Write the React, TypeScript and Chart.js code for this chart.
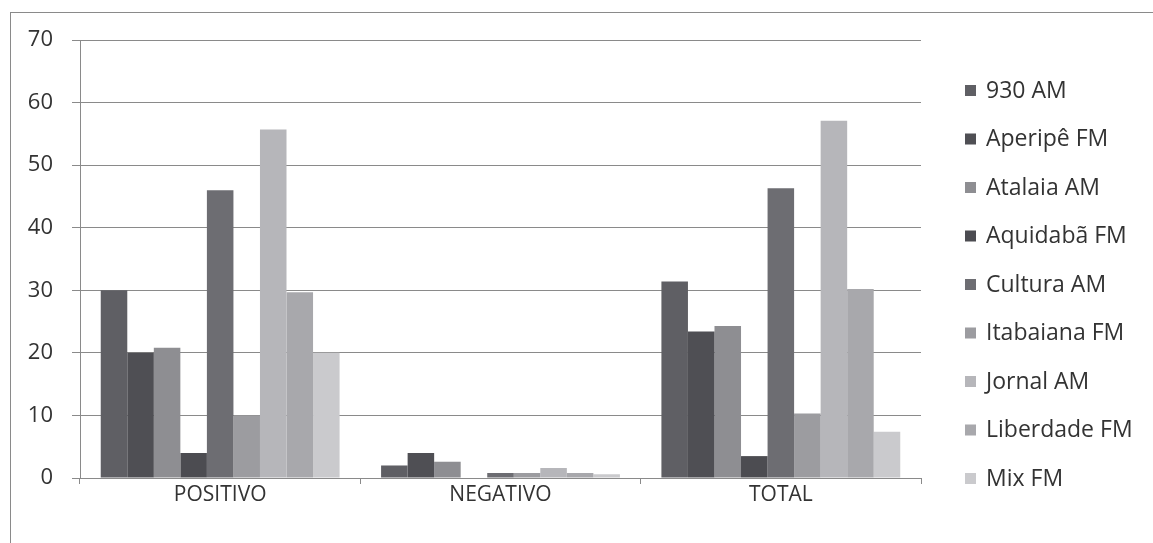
import React, { useEffect, useRef } from "react";
import { Chart, registerables } from "chart.js";

Chart.register(...registerables);

const categories = ["POSITIVO", "NEGATIVO", "TOTAL"];
const stations = [
  "930 AM",
  "Aperipê FM",
  "Atalaia AM",
  "Aquidabã FM",
  "Cultura AM",
  "Itabaiana FM",
  "Jornal AM",
  "Liberdade FM",
  "Mix FM",
];
const positivo = [30, 20, 20.8, 4, 46, 10, 55.7, 29.7, 20];
const negativo = [2, 4, 2.6, 0, 0.8, 0.8, 1.6, 0.8, 0.6];
const total = [31.4, 23.4, 24.3, 3.5, 46.3, 10.3, 57.1, 30.2, 7.4];
const yTicks = [0, 10, 20, 30, 40, 50, 60, 70];

const colors = [
  "#5f5f64",
  "#4f4f54",
  "#8e8e92",
  "#4c4c51",
  "#6d6d72",
  "#9c9ca0",
  "#b6b6ba",
  "#a8a8ac",
  "#cacacd",
];

const FONT = '"Open Sans", "DejaVu Sans", sans-serif';

const sideLegend = {
  id: "sideLegend",
  afterDraw(chart: any) {
    const ctx = chart.ctx;
    ctx.save();
    ctx.font = `23px ${FONT}`;
    ctx.textBaseline = "middle";
    ctx.textAlign = "left";
    chart.data.datasets.forEach((ds: any, i: number) => {
      const y = 90 + i * 48.5;
      ctx.fillStyle = ds.backgroundColor;
      ctx.fillRect(965, y - 5, 11, 11);
      ctx.fillStyle = "#333333";
      ctx.fillText(ds.label, 986, y + 1);
    });
    ctx.restore();
  },
};

export default function App() {
  const ref = useRef<HTMLCanvasElement | null>(null);

  useEffect(() => {
    if (!ref.current) return;
    const datasets = stations.map((s, i) => ({
      label: s,
      data: [positivo[i], negativo[i], total[i]],
      backgroundColor: colors[i],
      borderWidth: 0,
      barPercentage: 1,
      categoryPercentage: 0.852,
    }));
    const chart = new Chart(ref.current, {
      type: "bar",
      data: { labels: categories, datasets },
      plugins: [sideLegend],
      options: {
        animation: false,
        responsive: false,
        devicePixelRatio: 1,
        layout: { padding: { left: 0, top: 40, right: 232, bottom: 0 } },
        plugins: {
          legend: { display: false },
          tooltip: { enabled: false },
        },
        scales: {
          x: {
            grid: {
              display: true,
              drawOnChartArea: false,
              drawTicks: true,
              tickLength: 6,
              offset: true,
              color: "#8a8a8a",
            },
            border: { display: true, color: "#8a8a8a", width: 1 },
            ticks: {
              padding: -2,
              color: "#333333",
              font: { family: FONT, size: 21 },
              maxRotation: 0,
            },
            afterFit: (scale: any) => {
              scale.height = 65;
            },
          },
          y: {
            min: 0,
            max: 70,
            afterBuildTicks: (scale: any) => {
              scale.ticks = yTicks.map((v) => ({ value: v }));
            },
            grid: {
              color: "#8a8a8a",
              lineWidth: 1,
              drawTicks: true,
              tickLength: 8,
            },
            border: { display: true, color: "#8a8a8a", width: 1 },
            ticks: {
              padding: 19,
              color: "#333333",
              font: { family: FONT, size: 22 },
            },
            afterFit: (scale: any) => {
              scale.width = 80;
            },
          },
        },
      },
    });
    return () => chart.destroy();
  }, []);

  return (
    <div
      style={{
        position: "absolute",
        left: 0,
        top: 0,
        width: 1153,
        height: 543,
        background: "#ffffff",
        overflow: "hidden",
      }}
    >
      <div
        style={{
          position: "absolute",
          left: 10,
          top: 12,
          width: 1200,
          height: 600,
          borderLeft: "1px solid #8a8a8a",
          borderTop: "1px solid #8a8a8a",
        }}
      />
      <canvas
        ref={ref}
        width={1153}
        height={543}
        style={{ position: "absolute", left: 0, top: 0, width: 1153, height: 543 }}
      />
    </div>
  );
}
